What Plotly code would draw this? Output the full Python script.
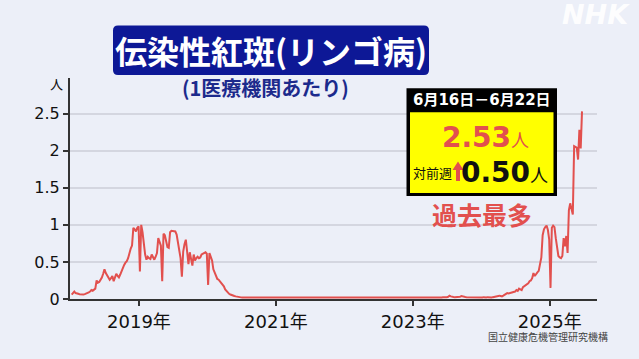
import plotly.graph_objects as go
import pandas as pd

# ---------------- data (weekly cases per sentinel, week-ending dates) -------------
first_week_end = "2018-01-07"

v2018 = [0.06, 0.09, 0.10, 0.08, 0.07, 0.07, 0.065, 0.06, 0.06, 0.06, 0.065, 0.07, 0.08,
         0.09, 0.10, 0.12, 0.11, 0.13, 0.14, 0.25, 0.22, 0.23, 0.26, 0.29, 0.34, 0.40,
         0.35, 0.32, 0.29, 0.26, 0.28, 0.31, 0.24, 0.29, 0.34, 0.31, 0.29, 0.33, 0.38,
         0.44, 0.46, 0.49, 0.51, 0.55, 0.64, 0.68, 0.72, 0.96, 0.94, 0.91, 0.96, 0.98]
v2019 = [0.37, 1.00, 0.90, 0.72, 0.60, 0.53, 0.57, 0.55, 0.54, 0.60, 0.57, 0.53, 0.57,
         0.62, 0.82, 0.78, 0.72, 0.24, 0.88, 0.86, 0.76, 0.70, 0.69, 0.90, 0.92, 0.92,
         0.91, 0.91, 0.87, 0.78, 0.64, 0.55, 0.30, 0.64, 0.74, 0.80, 0.64, 0.47, 0.63,
         0.55, 0.45, 0.60, 0.52, 0.55, 0.57, 0.55, 0.56, 0.60, 0.61, 0.62, 0.63, 0.61]
v2020 = [0.19, 0.62, 0.57, 0.52, 0.40, 0.35, 0.31, 0.27, 0.26, 0.24, 0.22, 0.19, 0.17,
         0.13, 0.11, 0.08, 0.07, 0.06, 0.05, 0.045, 0.04, 0.035, 0.03, 0.028, 0.025,
         0.022, 0.02, 0.02, 0.018, 0.02, 0.017, 0.015, 0.018, 0.016, 0.015, 0.014, 0.016,
         0.015, 0.013, 0.015, 0.014, 0.013, 0.015, 0.014, 0.012, 0.013, 0.014, 0.012,
         0.013, 0.012, 0.014, 0.013, 0.012]
v2021 = [0.012, 0.013, 0.012, 0.014, 0.013, 0.012, 0.013, 0.014, 0.012, 0.013, 0.015, 0.014, 0.013,
         0.015, 0.014, 0.016, 0.015, 0.014, 0.016, 0.015, 0.017, 0.016, 0.015, 0.017, 0.018, 0.016,
         0.017, 0.018, 0.017, 0.016, 0.015, 0.017, 0.016, 0.018, 0.017, 0.016, 0.018, 0.017, 0.019,
         0.018, 0.017, 0.019, 0.018, 0.017, 0.019, 0.018, 0.020, 0.019, 0.018, 0.020, 0.019, 0.016]
v2022 = [0.016, 0.018, 0.017, 0.019, 0.018, 0.017, 0.019, 0.018, 0.020, 0.019, 0.018, 0.020, 0.019,
         0.018, 0.020, 0.021, 0.019, 0.018, 0.020, 0.019, 0.021, 0.020, 0.019, 0.021, 0.020, 0.018,
         0.019, 0.020, 0.018, 0.019, 0.017, 0.019, 0.018, 0.020, 0.019, 0.018, 0.020, 0.019, 0.018,
         0.017, 0.019, 0.018, 0.017, 0.019, 0.018, 0.017, 0.018, 0.019, 0.017, 0.018, 0.017, 0.015]
v2023 = [0.015, 0.017, 0.016, 0.018, 0.017, 0.016, 0.018, 0.017, 0.019, 0.018, 0.017, 0.019, 0.018,
         0.020, 0.019, 0.021, 0.020, 0.022, 0.021, 0.020, 0.022, 0.021, 0.023, 0.022, 0.024, 0.025,
         0.030, 0.045, 0.035, 0.028, 0.026, 0.025, 0.027, 0.026, 0.025, 0.030, 0.040, 0.032, 0.028,
         0.026, 0.025, 0.024, 0.026, 0.025, 0.024, 0.026, 0.025, 0.024, 0.023, 0.024, 0.022, 0.020]
v2024 = [0.020, 0.025, 0.020, 0.020, 0.025, 0.020, 0.025, 0.020, 0.025, 0.030, 0.025, 0.030, 0.035,
         0.045, 0.040, 0.035, 0.045, 0.060, 0.070, 0.080, 0.075, 0.080, 0.085, 0.080, 0.090, 0.100,
         0.120, 0.110, 0.140, 0.130, 0.120, 0.160, 0.170, 0.180, 0.190, 0.210, 0.240, 0.250, 0.280,
         0.350, 0.310, 0.340, 0.360, 0.380, 0.450, 0.560, 0.860, 0.940, 0.970, 0.990, 0.930, 0.800]
v2025 = [0.15, 0.96, 0.99, 0.97, 0.82, 0.70, 0.58, 0.56, 0.55, 0.58, 0.82, 0.71, 0.85,
         0.62, 1.20, 1.29, 1.22, 1.14, 2.06, 2.05, 2.04, 1.88, 2.28, 2.03, 2.53]

values = v2018 + v2019 + v2020 + v2021 + v2022 + v2023 + v2024 + v2025
dates = pd.date_range(first_week_end, periods=len(values), freq="7D")

tick_dates = ["2019-01-01", "2021-01-01", "2023-01-01", "2025-01-01"]
tick_labels = ["2019年", "2021年", "2023年", "2025年"]
y_ticks = [0, 0.5, 1, 1.5, 2, 2.5]
y_labels = ["0", "0.5", "1", "1.5", "2", "2.5"]

title_text = "伝染性紅斑(リンゴ病)"
subtitle_text = "(1医療機関あたり)"
period_text = "6月16日－6月22日"
latest_value = "2.53"
change_value = "0.50"
source_text = "国立健康危機管理研究機構"

# ---------------- layout helpers ----------------
W, H = 639, 359
ML, MR, MT, MB = 70, 42, 78, 60
PW, PH = W - ML - MR, H - MT - MB


def X(px):
    return (px - ML) / PW


def Y(py):
    return (H - MB - py) / PH


def rrect(x0, y0, x1, y1, r):
    return (f"M {X(x0 + r)},{Y(y0)} L {X(x1 - r)},{Y(y0)} Q {X(x1)},{Y(y0)} {X(x1)},{Y(y0 + r)} "
            f"L {X(x1)},{Y(y1 - r)} Q {X(x1)},{Y(y1)} {X(x1 - r)},{Y(y1)} "
            f"L {X(x0 + r)},{Y(y1)} Q {X(x0)},{Y(y1)} {X(x0)},{Y(y1 - r)} "
            f"L {X(x0)},{Y(y0 + r)} Q {X(x0)},{Y(y0)} {X(x0 + r)},{Y(y0)} Z")


BG = "#eceff8"
RED = "#e2504e"
NUMFONT = "DejaVu Sans, Noto Sans CJK JP"
JPFONT = "Noto Sans CJK JP"

fig = go.Figure()
fig.add_trace(go.Scatter(x=dates, y=values, mode="lines",
                         line=dict(color=RED, width=2), hoverinfo="skip", showlegend=False))

shapes = [
    # title box
    dict(type="path", xref="paper", yref="paper", path=rrect(113, 25.5, 429, 75, 5),
         fillcolor="#0d1896", line=dict(width=0), layer="above"),
    # info box: black frame + header
    dict(type="rect", xref="paper", yref="paper", x0=X(406.5), x1=X(557), y0=Y(196), y1=Y(88.3),
         fillcolor="#000000", line=dict(width=0), layer="above"),
    dict(type="rect", xref="paper", yref="paper", x0=X(410), x1=X(553.5), y0=Y(193), y1=Y(112.3),
         fillcolor="#ffff00", line=dict(width=0), layer="above"),
    # red up arrow
    dict(type="path", xref="paper", yref="paper",
         path=(f"M {X(458)},{Y(161.5)} L {X(463.5)},{Y(170)} L {X(460)},{Y(170)} "
               f"L {X(460)},{Y(181)} L {X(456)},{Y(181)} L {X(456)},{Y(170)} "
               f"L {X(452.5)},{Y(170)} Z"),
         fillcolor=RED, line=dict(width=0), layer="above"),
]

ann = []


def add_text(px, py, text, size, color, family=JPFONT, xanchor="center"):
    ann.append(dict(x=X(px), y=Y(py), xref="paper", yref="paper", text=text, showarrow=False,
                    xanchor=xanchor, yanchor="middle", font=dict(size=size, color=color, family=family)))


add_text(271, 50, f"<b>{title_text}</b>", 32, "#ffffff")
add_text(265, 88, f"<b>{subtitle_text}</b>", 20, "#1c2a8c")
add_text(56, 83, "人", 13, "#111111")
add_text(481.5, 100, f"<b>{period_text}</b>", 15, "#ffffff", NUMFONT)
add_text(485, 137, f"<b>{latest_value}</b><span style='font-size:18px'>人</span>", 28, RED, NUMFONT)
add_text(432, 172, "対前週", 13, "#111111")
add_text(504, 172, f"<b>{change_value}</b><span style='font-size:18px'>人</span>", 28, "#111111", NUMFONT)
add_text(482, 214, "<b>過去最多</b>", 25, RED)
add_text(548, 336, source_text, 10, "#444444")
add_text(596, 15, "<b><i>NHK</i></b>", 27, "rgba(255,255,255,0.92)", "DejaVu Sans")

fig.update_layout(
    width=W, height=H,
    margin=dict(l=ML, r=MR, t=MT, b=MB, pad=0),
    paper_bgcolor=BG, plot_bgcolor=BG,
    font=dict(family=NUMFONT, color="#111111"),
    shapes=shapes, annotations=ann, showlegend=False,
    xaxis=dict(type="date", range=["2017-12-29", "2025-09-10"],
               tickmode="array", tickvals=tick_dates, ticktext=tick_labels,
               showgrid=False, zeroline=False, showline=True, linecolor="#333333", linewidth=2,
               ticks="outside", ticklen=5, tickwidth=1.5, tickcolor="#333333",
               tickfont=dict(size=18, color="#111111", family=NUMFONT), fixedrange=True),
    yaxis=dict(range=[0, 2.98], tickmode="array", tickvals=y_ticks, ticktext=y_labels,
               showgrid=True, gridcolor="#d4d6e0", gridwidth=1.5, zeroline=False,
               showline=True, linecolor="#333333", linewidth=2,
               ticks="outside", ticklen=5, tickwidth=1.5, tickcolor="#333333",
               tickfont=dict(size=16, color="#111111", family=NUMFONT), fixedrange=True),
)

fig.write_html("out.html", config={"displayModeBar": False},
               post_script="document.body.style.margin='0';document.body.style.background='" + BG + "';")
